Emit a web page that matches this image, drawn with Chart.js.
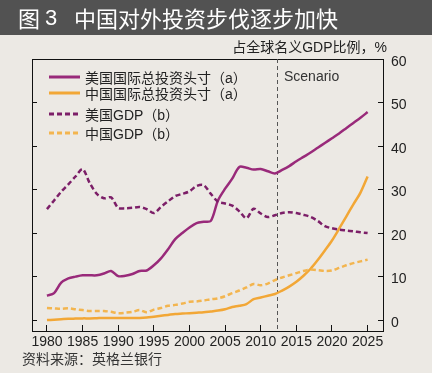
<!DOCTYPE html>
<html>
<head>
<meta charset="utf-8">
<script src="https://cdn.jsdelivr.net/npm/chart.js@4/dist/chart.umd.min.js"></script>
<style>
  html, body { margin: 0; padding: 0; }
  body {
    width: 432px; height: 373px; overflow: hidden; position: relative;
    background: #ECE9E4;
    font-family: "Liberation Sans", "Noto Sans CJK SC", sans-serif;
    color: #222;
  }
  #title {
    position: absolute; left: 0; top: 0; width: 432px; height: 35px;
    background: #525252; color: #fff;
    font-family: "Noto Sans CJK SC", sans-serif; font-size: 22px;
    line-height: 35px;
  }
  #title span { position: absolute; top: 0; white-space: nowrap; }
  #chart { position: absolute; left: 0; top: 0; }
  .txt { position: absolute; white-space: nowrap; font-size: 14px; line-height: 16px; }
  #unit { right: 45px; top: 39px; font-size: 14px; }
  #source { left: 22px; top: 350px; color: #333; font-family: "Noto Sans CJK SC", sans-serif; }
  #scenario { left: 284px; top: 68px; color: #333; }
  .leg { position: absolute; left: 49px; height: 16px; display: flex; align-items: center; font-size: 14px; }
  .leg svg { margin-right: 5px; }
</style>
</head>
<body>
<canvas id="chart" width="432" height="373"></canvas>
<div id="title"><span style="left:18px">图</span><span style="left:45px;font-family:'Liberation Sans',sans-serif">3</span><span style="left:74px">中国对外投资步伐逐步加快</span></div>
<div class="txt" id="unit">占全球名义GDP比例，%</div>
<div class="txt" id="scenario">Scenario</div>
<div class="txt" id="source">资料来源：英格兰银行</div>
<div id="legend"></div>
<script>
// years on the x axis
const years = [];
for (let y = 1980; y <= 2025; y++) years.push(y);

// % of world nominal GDP
const usIIP = [5.6, 6.2, 8.6, 9.6, 10.0, 10.3, 10.3, 10.3, 10.7, 11.3,
  10.1, 10.2, 10.6, 11.3, 11.4, 12.6, 14.2, 16.3, 18.6, 20.0,
  21.3, 22.3, 22.6, 22.8, 27.5, 30.2, 32.5, 35.2, 35.0, 34.6,
  34.7, 34.2, 33.7, 34.5, 35.4, 36.5, 37.5, 38.5, 39.6, 40.7,
  41.8, 42.9, 44.1, 45.3, 46.5, 47.8];
const cnIIP = [0.0, 0.1, 0.2, 0.3, 0.35, 0.4, 0.4, 0.45, 0.5, 0.5,
  0.5, 0.5, 0.5, 0.5, 0.6, 0.8, 1.0, 1.2, 1.4, 1.5,
  1.6, 1.7, 1.8, 2.0, 2.2, 2.5, 3.0, 3.3, 3.7, 4.8,
  5.2, 5.6, 6.0, 6.8, 7.7, 8.8, 10.2, 11.8, 13.8, 16.0,
  18.3, 21.0, 23.8, 26.6, 29.3, 33.0];
const usGDP = [25.5, 27.5, 29.5, 31.2, 33.0, 34.7, 31.5, 29.0, 28.0, 28.2,
  25.8, 25.7, 25.8, 26.0, 25.5, 24.6, 26.0, 27.3, 28.5, 29.0,
  29.6, 30.8, 31.0, 29.0, 27.2, 26.8, 26.3, 25.0, 23.4, 25.6,
  24.5, 23.7, 24.1, 24.6, 24.8, 24.6, 24.2, 23.7, 22.8, 21.6,
  21.1, 20.8, 20.6, 20.4, 20.2, 20.0];
const cnGDP = [2.8, 2.7, 2.6, 2.7, 2.5, 2.3, 2.1, 2.1, 2.1, 1.9,
  1.6, 1.7, 1.9, 2.3, 1.8, 2.4, 2.8, 3.3, 3.5, 3.8,
  4.2, 4.3, 4.5, 4.8, 5.0, 5.5, 6.2, 6.8, 7.5, 8.3,
  8.0, 8.4, 9.2, 9.8, 10.3, 10.8, 11.3, 11.6, 11.5, 11.3,
  11.4, 12.0, 12.6, 13.1, 13.5, 13.9];

const xTicks = [1980, 1985, 1990, 1995, 2000, 2005, 2010, 2015, 2020, 2025];
const yTicks = [0, 10, 20, 30, 40, 50, 60];
const scenarioYear = 2012.25;

const seriesNames = ['美国国际总投资头寸（a）', '中国国际总投资头寸（a）', '美国GDP（b）', '中国GDP（b）'];
const seriesColors = ['#992A7A', '#F2A736', '#7C1F68', '#F3B54F'];
const seriesDash = [[], [], [5, 3], [5, 3]];
const seriesData = [usIIP, cnIIP, usGDP, cnGDP];

// legend drawn as html inside the plot box
const legendTops = [69, 85, 106, 125];
const legendEl = document.getElementById('legend');
seriesNames.forEach((name, i) => {
    const row = document.createElement('div');
    row.className = 'leg';
    row.style.top = legendTops[i] + 'px';
    const dash = seriesDash[i].length ? `stroke-dasharray="${seriesDash[i].join(' ')}"` : '';
    row.innerHTML = `<svg width="31" height="4"><line x1="0" y1="2" x2="31" y2="2" stroke="${seriesColors[i]}" stroke-width="3" ${dash}/></svg><span>${name}</span>`;
    legendEl.appendChild(row);
});

const boxPlugin = {
    id: 'box',
    beforeDatasetsDraw(chart) {
        const { ctx, chartArea: a, scales } = chart;
        ctx.save();
        ctx.strokeStyle = '#111';
        ctx.lineWidth = 1;
        ctx.strokeRect(Math.round(a.left) + 0.5, Math.round(a.top) + 0.5,
            Math.round(a.right - a.left) - 1, Math.round(a.bottom - a.top));
        const x = Math.round(scales.x.getPixelForValue(scenarioYear)) + 0.5;
        ctx.strokeStyle = '#555';
        ctx.setLineDash([4, 3]);
        ctx.beginPath();
        ctx.moveTo(x, a.top);
        ctx.lineTo(x, a.bottom);
        ctx.stroke();
        ctx.restore();
    }
};

const tickFont = { family: '"Liberation Sans", Arial, sans-serif', size: 14 };

new Chart(document.getElementById('chart'), {
    type: 'line',
    data: {
        labels: years,
        datasets: seriesData.map((d, i) => ({
            label: seriesNames[i],
            data: d.map((v, j) => ({ x: years[j], y: v })),
            borderColor: seriesColors[i],
            borderWidth: 2.5,
            borderDash: seriesDash[i],
            pointRadius: 0,
            tension: 0.3,
            fill: false
        })).reverse()
    },
    options: {
        responsive: false,
        animation: false,
        layout: { padding: { left: 32, top: 59, right: 0, bottom: 0 } },
        plugins: { legend: { display: false }, tooltip: { enabled: false } },
        scales: {
            x: {
                type: 'linear',
                min: 1977.9,
                max: 2027.3,
                afterBuildTicks: s => { s.ticks = xTicks.map(v => ({ value: v })); },
                afterFit: s => { s.height = 42; },
                grid: { drawOnChartArea: false, tickLength: -6, color: '#111' },
                border: { display: false },
                ticks: { color: '#222', font: tickFont, padding: 9, maxRotation: 0, callback: v => String(v) }
            },
            y: {
                position: 'right',
                min: -2.5,
                max: 60,
                afterBuildTicks: s => { s.ticks = yTicks.map(v => ({ value: v })); },
                afterFit: s => { s.width = 48; },
                grid: { drawOnChartArea: false, tickLength: -6, color: '#111' },
                border: { display: false },
                ticks: { color: '#222', font: tickFont, padding: 13, labelOffset: 3 }
            },
            y2: {
                position: 'left',
                min: -2.5,
                max: 60,
                afterBuildTicks: s => { s.ticks = yTicks.slice(0, 6).map(v => ({ value: v })); },
                afterFit: s => { s.width = 0; },
                grid: { drawOnChartArea: false, tickLength: -5, color: '#111' },
                border: { display: false },
                ticks: { display: false }
            }
        }
    },
    plugins: [boxPlugin]
});
</script>
</body>
</html>
